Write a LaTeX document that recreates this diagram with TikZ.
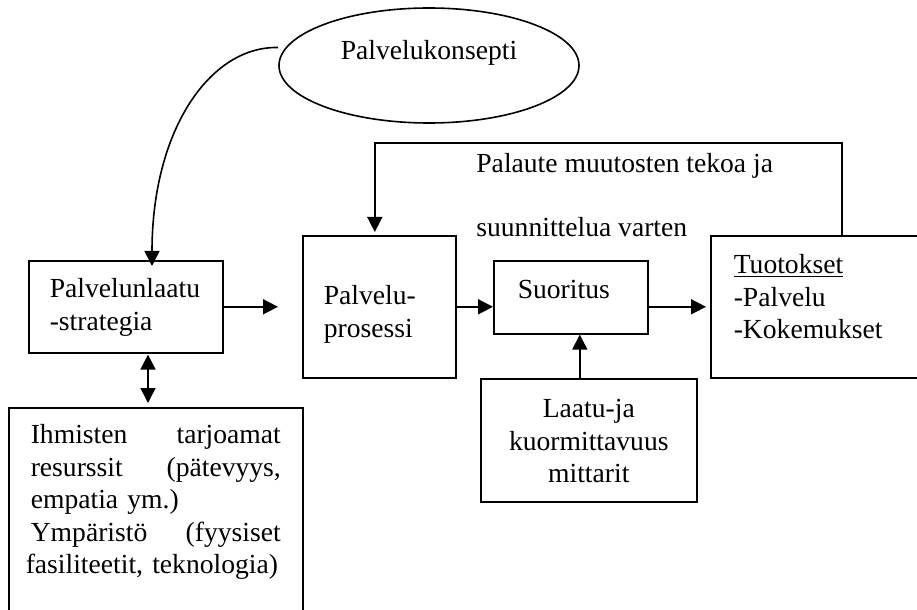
\documentclass[tikz,border=0pt]{standalone}
\usepackage{fontspec}
\setmainfont{Liberation Serif}
\usepackage{tikz}
\usetikzlibrary{arrows.meta,shapes.geometric}
\tikzset{
  kfont/.style={font=\fontsize{13.8pt}{16.25pt}\selectfont},
  kbox/.style={draw, kfont, anchor=north west, inner ysep=0pt,
    align=left, line width=0.8pt},
  kellipse/.style={draw, ellipse, kfont, inner sep=0pt,
    minimum width=150pt, minimum height=57.5pt, line width=0.8pt},
  klabel/.style={kfont, anchor=base west, inner sep=0pt},
  karr/.style={-{Triangle[length=7.5pt,width=7.5pt]}, line width=0.8pt},
  kdarr/.style={{Triangle[length=7.5pt,width=7.5pt]}-{Triangle[length=7.5pt,width=7.5pt]},
    line width=0.8pt},
}

\begin{document}
\begin{tikzpicture}[x=0.5pt, y=-0.5pt]
  \useasboundingbox (0,0) rectangle (917,610);
  % ---- concept ----
  \node[kellipse, text height=10pt, text depth=15.5pt] at (429,65.5) (pkons) {Palvelukonsepti};

  % ---- strategy (left) ----
  \node[kbox, inner xsep=10.5pt, text width=76pt,
        text height=18.5pt, text depth=27.5pt] at (28,260) (plstrat)
        {Palvelunlaatu\\-strategia};
  \node[kbox, inner xsep=11pt, text width=125pt,
        text height=18pt, text depth=91pt] at (8,407) (ihm)
        {Ihmisten\hfill tarjoamat\\
         resurssit\hfill (pätevyys,\\
         empatia ym.)\\
         Ympäristö\hfill (fyysiset\\
         \hspace*{-2.5pt}fasiliteetit, teknologia)};

  % ---- process chain ----
  \node[kbox, inner xsep=10.5pt, text width=55.5pt,
        text height=34.5pt, text depth=36.5pt] at (302,235) (prosessi)
        {Palvelu-\\prosessi};
  \node[kbox, inner xsep=12pt, text width=53pt,
        text height=19pt, text depth=17.5pt] at (493,260) (suor) {Suoritus};
  \node[kbox, inner xsep=11.5pt, text width=84.5pt,
        text height=19pt, text depth=52pt] at (710,235) (tuot)
        {\underline{Tuotokset}\\-Palvelu\\-Kokemukset};
  \node[kbox, inner xsep=0pt, text width=108pt, align=center,
        text height=19.5pt, text depth=42pt] at (480,378) (laatu)
        {Laatu-ja\\kuormittavuus\\mittarit};

  % ---- feedback ----
  \coordinate (fb) at (600,143);
  \node[klabel] at (476,173) (palaute1) {Palaute muutosten tekoa ja};
  \node[klabel] at (476,237) (palaute2) {suunnittelua varten};

  % ---- Edges ----
  \draw[karr, shorten >=-3pt] ([yshift=9pt]pkons.west)
    .. controls (210,46) and (152,130) .. ([xshift=62pt]plstrat.north west);
  \draw[kdarr, shorten >=2pt, shorten <=0.5pt] ([xshift=60pt]plstrat.south west)
    -- ([xshift=60pt]plstrat.south west |- ihm.north);
  \draw[karr, shorten >=12pt] (plstrat.east) -- (plstrat.east -| prosessi.west);
  \draw[karr] (prosessi.east) -- (prosessi.east -| suor.west);
  \draw[karr, shorten >=2pt] (tuot.west -| suor.east) -- (tuot.west);
  \draw[karr] ([xshift=-4.5pt]laatu.north) -- ([xshift=-4.5pt]laatu.north |- suor.south);
  % feedback loop
  \draw[karr, shorten >=1.5pt] ([xshift=66pt]tuot.north west) |- (fb)
    -| ([xshift=-2.25pt]prosessi.north);
\end{tikzpicture}
\end{document}
